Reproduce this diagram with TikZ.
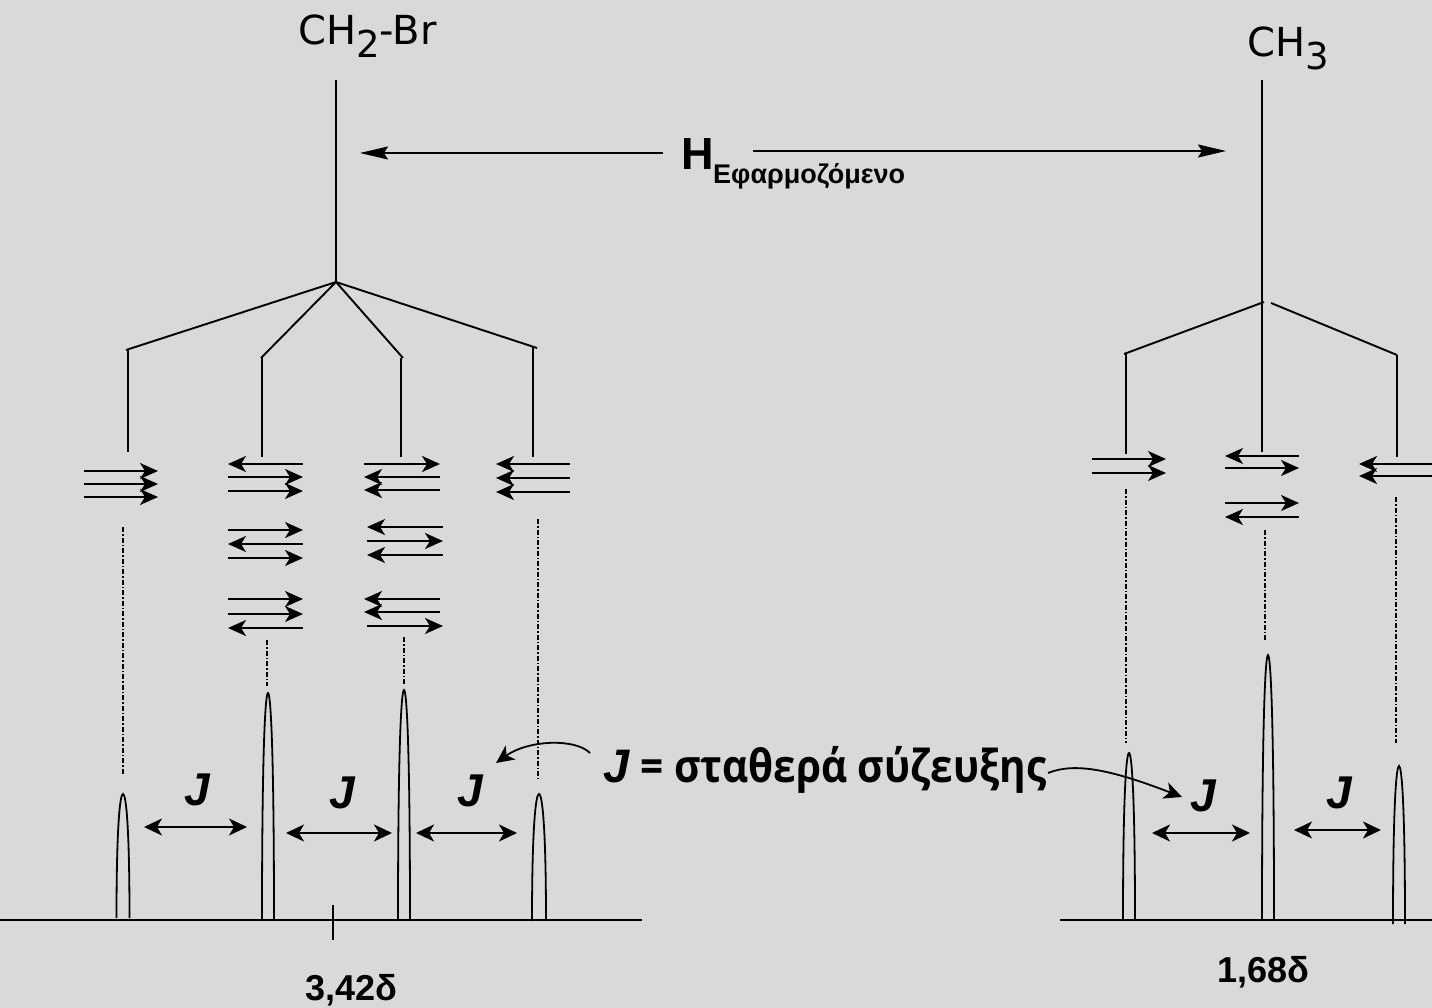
\documentclass[tikz,border=0pt]{standalone}
\usepackage{fontspec}
\setmainfont{Liberation Sans}
\newfontfamily\dejavu{DejaVu Sans}
\newfontfamily\opensans{Open Sans}
\usetikzlibrary{arrows.meta}

% one NMR line: centre x, half width, top y, base y
\newcommand\nmrpeak[4]{%
  \draw[peakline] ({#1-#2},#4) .. controls ({#1-#2},{#3+0.25*(#4-#3)}) and ({#1-0.45*#2},#3) .. (#1,#3)
    .. controls ({#1+0.45*#2},#3) and ({#1+#2},{#3+0.25*(#4-#3)}) .. ({#1+#2},#4);}
% spin arrows: from x1 to x2 at height y
\newcommand\spinR[3]{\draw[spin,-{Stealth[length=18pt,width=16pt,inset=5pt]}] (#1,#3) -- (#2,#3);}
\newcommand\spinL[3]{\draw[spin,{Stealth[length=18pt,width=16pt,inset=5pt]}-] (#1,#3) -- (#2,#3);}

\tikzset{
  tree/.style={line width=1.9pt, black},
  spin/.style={line width=2.1pt, black},
  peakline/.style={line width=1.8pt, black},
  guide/.style={line width=1.5pt, dash pattern=on 5pt off 2pt on 1.5pt off 2pt},
  jarrow/.style={line width=2pt, {Stealth[length=18pt,width=17pt,inset=5pt]}-{Stealth[length=18pt,width=17pt,inset=5pt]}},
  fieldarrow/.style={line width=1.8pt, -{Stealth[length=28pt,width=13pt,inset=4pt]}},
  note/.style={line width=1.8pt, -{Stealth[length=18pt,width=17pt,inset=5pt]}},
  jlabel/.style={font=\fontsize{46}{46}\selectfont\bfseries\itshape, inner sep=0pt},
  shiftlabel/.style={font=\fontsize{36}{36}\selectfont\bfseries, inner sep=0pt, anchor=base west},
  grouplabel/.style={font=\dejavu\fontsize{40}{40}\selectfont, inner sep=0pt, anchor=base west},
}

\begin{document}
\begin{tikzpicture}[x=1pt,y=-1pt]
\useasboundingbox (0,0) rectangle (1432,1008);
\fill[fill={rgb,255:red,217;green,217;blue,217}] (0,0) rectangle (1432,1008);
\clip (0,0) rectangle (1432,1008);

% ---------- group labels ----------
\node[grouplabel] (ch2br) at (298,45) {CH\raisebox{-13pt}{\fontsize{37}{37}\selectfont 2}-Br};
\node[grouplabel] (ch3) at (1247,57) {CH\raisebox{-13pt}{\fontsize{37}{37}\selectfont 3}};

% ---------- applied field ----------
\node[font=\fontsize{45}{45}\selectfont\bfseries, inner sep=0pt, anchor=base west] (H) at (681,170) {H};
\node[font=\fontsize{27}{27}\selectfont\bfseries, inner sep=0pt, anchor=base west] (Hsub) at (713,184) {Εφαρμοζόμενο};
\coordinate (fl) at (360,153);
\coordinate (fr) at (1226,151);
\draw[fieldarrow] (663,153) -- (fl);
\draw[fieldarrow] (753,151) -- (fr);

% ---------- CH2 splitting tree ----------
\coordinate (a0) at (336,80);
\coordinate (a1) at (336,282);
\coordinate (l1) at (126,350);
\coordinate (l2) at (261,358);
\coordinate (l3) at (403,358);
\coordinate (l4) at (537,348);
\draw[tree] (a0) -- (a1);
\draw[tree] (a1) -- (l1) (a1) -- (l2) (a1) -- (l3) (a1) -- (l4);
\draw[tree] (128,350) -- (128,452);
\draw[tree] (262,358) -- (262,457);
\draw[tree] (401,358) -- (401,457);
\draw[tree] (533,347) -- (533,457);

% ---------- CH3 splitting tree ----------
\coordinate (b0) at (1262,80);
\coordinate (b1) at (1262,452);
\coordinate (m1) at (1124,354);
\coordinate (m3) at (1397,355);
\draw[tree] (b0) -- (b1);
\draw[tree] (1264,302) -- (m1);
\draw[tree] (1271,303) -- (m3);
\draw[tree] (1126,354) -- (1126,454);
\draw[tree] (1397,355) -- (1397,457);

% ---------- CH3 spin states (felt by CH2) ----------
\spinR{84}{158}{471}\spinR{84}{158}{484}\spinR{84}{158}{497}

\spinL{228}{303}{464}\spinR{228}{303}{477}\spinR{228}{303}{491}
\spinR{228}{303}{530}\spinL{228}{303}{544}\spinR{228}{303}{558}
\spinR{228}{303}{599}\spinR{228}{303}{614}\spinL{228}{303}{628}

\spinR{364}{440}{464}\spinL{364}{440}{477}\spinL{364}{440}{490}
\spinL{367}{443}{527}\spinR{367}{443}{541}\spinL{367}{443}{555}
\spinL{364}{440}{599}\spinL{364}{440}{612}\spinR{367}{443}{626}

\spinL{496}{570}{464}\spinL{496}{570}{478}\spinL{496}{570}{492}

% ---------- CH2 spin states (felt by CH3) ----------
\spinR{1092}{1166}{459}\spinR{1092}{1166}{473}
\spinL{1225}{1299}{456}\spinR{1225}{1299}{468}
\spinR{1225}{1299}{503}\spinL{1225}{1299}{517}
\spinL{1359}{1460}{464}\spinL{1359}{1460}{476}

% ---------- guides down to the lines ----------
\draw[guide] (123,527) -- (123,774);
\draw[guide] (267,640) -- (267,686);
\draw[guide] (404,637) -- (404,684);
\draw[guide] (538,519) -- (538,779);
\draw[guide] (1126,489) -- (1126,743);
\draw[guide] (1265,530) -- (1265,640);
\draw[guide] (1396,497) -- (1396,743);

% ---------- spectra ----------
\draw[line width=1.8pt] (0,920) -- (642,920);
\draw[line width=1.8pt] (1060,920) -- (1432,920);
\draw[line width=1.8pt] (333,905) -- (333,940);

\nmrpeak{123}{6.5}{794}{918}
\nmrpeak{268}{6}{693}{921}
\nmrpeak{404}{6}{690}{921}
\nmrpeak{539}{7}{794}{921}
\nmrpeak{1129}{6}{753}{920}
\nmrpeak{1268}{6}{655}{920}
\nmrpeak{1399}{6}{766}{924}

% ---------- coupling constants ----------
\draw[jarrow] (144,827) -- (247,827);
\draw[jarrow] (286,833) -- (392,833);
\draw[jarrow] (416,833) -- (517,833);
\draw[jarrow] (1152,833) -- (1250,833);
\draw[jarrow] (1294,830) -- (1381,830);
\node[jlabel] (j1) at (197,790) {J};
\node[jlabel] (j2) at (342,793) {J};
\node[jlabel] (j3) at (470,791) {J};
\node[jlabel] (j4) at (1203,796) {J};
\node[jlabel] (j5) at (1339,793) {J};

\node[inner sep=0pt, anchor=base west] (jdef) at (603,782)
  {\fontsize{47}{47}\selectfont\bfseries\itshape J\/\opensans\upshape\fontsize{40.5}{40.5}\selectfont{} \scalebox{1}[1.12]{= σταθερά σύζευξης}};
\draw[note] (590,753) .. controls (575,738) and (528,740) .. (496,763);
\draw[note] (1048,773) .. controls (1075,762) and (1112,770) .. (1182,797);

% ---------- chemical shifts ----------
\node[shiftlabel] (d1) at (305,1000) {3,42δ};
\node[shiftlabel] (d2) at (1217,982) {1,68δ};
\end{tikzpicture}
\end{document}
